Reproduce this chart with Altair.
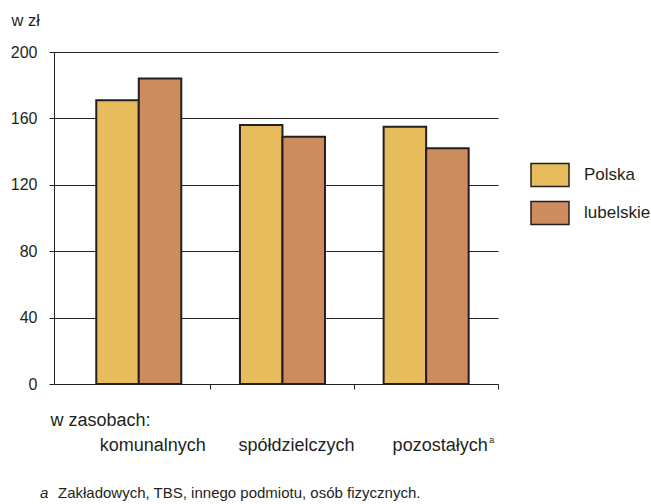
import altair as alt
import pandas as pd

# Average monthly rent per dwelling, by ownership type of the housing stock
categories = ["komunalnych", "spółdzielczych", "pozostałych"]
series = ["Polska", "lubelskie"]
polska = [171, 156, 155]
lubelskie = [184, 149, 142]
colors = ["#E6BC5C", "#CD8C5E"]
y_ticks = [0, 40, 80, 120, 160, 200]
footnote_marker = "a"
footnote_text = "Zakładowych, TBS, innego podmiotu, osób fizycznych."
footnoted_category = "pozostałych"

rows = []
for cat, p, l in zip(categories, polska, lubelskie):
    rows.append({"kategoria": cat, "obszar": "Polska", "wartosc": p})
    rows.append({"kategoria": cat, "obszar": "lubelskie", "wartosc": l})
df = pd.DataFrame(rows)

FONT = "Liberation Sans"
INK = "#231F20"

x_enc = alt.X(
    "kategoria:N",
    sort=categories,
    scale=alt.Scale(paddingInner=0, paddingOuter=0.045, align=1),
    axis=alt.Axis(
        title="w zasobach:",
        titleFont=FONT,
        titleFontSize=18,
        titleFontWeight="normal",
        titleColor=INK,
        titleAlign="left",
        titleBaseline="alphabetic",
        titleAngle=0,
        titleX=-4,
        titleY=41,
        domain=False,
        grid=False,
        ticks=True,
        tickSize=5,
        tickColor=INK,
        tickWidth=1,
        bandPosition=1,
        labelAngle=0,
        labelFont=FONT,
        labelFontSize=18,
        labelColor=INK,
        labelBaseline="alphabetic",
        labelPadding=61,
        labelOffset=14,
    ),
)

bars = alt.Chart(df).mark_bar(stroke=INK, strokeWidth=2).encode(
    x=x_enc,
    xOffset=alt.XOffset(
        "obszar:N",
        sort=series,
        scale=alt.Scale(paddingInner=0, paddingOuter=0.69),
    ),
    y=alt.Y(
        "wartosc:Q",
        scale=alt.Scale(domain=[0, 200], nice=False),
        axis=alt.Axis(
            values=y_ticks,
            title="w zł",
            titleFont=FONT,
            titleFontSize=16.5,
            titleFontWeight="normal",
            titleColor=INK,
            titleAngle=0,
            titleAlign="left",
            titleBaseline="middle",
            titleX=-43,
            titleY=-32,
            domain=True,
            domainColor=INK,
            domainWidth=1,
            grid=True,
            gridColor=INK,
            gridWidth=1,
            tickSize=5,
            tickColor=INK,
            labelFont=FONT,
            labelFontSize=16,
            labelColor=INK,
            labelPadding=12,
        ),
    ),
    color=alt.Color(
        "obszar:N",
        sort=series,
        scale=alt.Scale(domain=series, range=colors),
        legend=alt.Legend(
            title=None,
            orient="none",
            legendX=476,
            legendY=103,
            symbolType="M-1,-0.6H1V0.6H-1Z",
            symbolSize=1444,
            symbolStrokeColor=INK,
            symbolStrokeWidth=1.5,
            symbolOpacity=1,
            labelFont=FONT,
            labelFontSize=17,
            labelColor=INK,
            labelOffset=14,
            rowPadding=3,
        ),
    ),
)

# small raised footnote marker after the last category label
sup_df = pd.DataFrame({"kategoria": [footnoted_category], "znak": [footnote_marker]})
superscript = alt.Chart(sup_df).mark_text(
    font=FONT, fontSize=9, align="left", baseline="alphabetic", color=INK, dx=63
).encode(
    x=alt.X("kategoria:N", sort=categories),
    y=alt.value(391),
    text="znak:N",
)

note = pd.DataFrame({"znak": [footnote_marker], "tekst": [footnote_text]})

note_mark = alt.Chart(note).mark_text(
    font=FONT, fontSize=15, fontStyle="italic", align="left", baseline="middle", color=INK
).encode(x=alt.value(-14), y=alt.value(441), text="znak:N")

note_text = alt.Chart(note).mark_text(
    font=FONT, fontSize=15, align="left", baseline="middle", color=INK
).encode(x=alt.value(4), y=alt.value(441), text="tekst:N")

chart = (
    alt.layer(bars, superscript, note_mark, note_text)
    .properties(
        width=444,
        height=332,
        autosize=alt.AutoSizeParams(type="none"),
        padding={"left": 54, "top": 52, "right": 153, "bottom": 120},
        background="white",
    )
    .configure_view(stroke=None)
)

chart.save("out.html", embed_options={"renderer": "svg", "actions": False})
